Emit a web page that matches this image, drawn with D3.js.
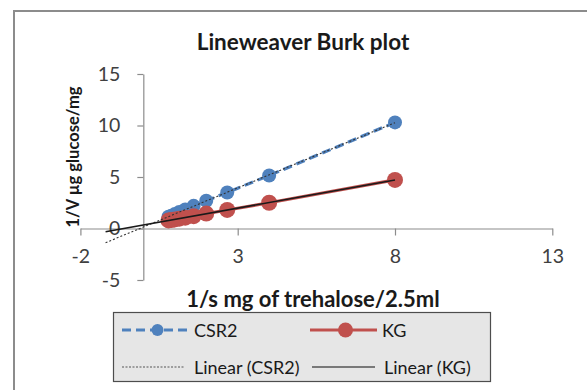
<!DOCTYPE html>
<html>
<head>
<meta charset="utf-8">
<script src="https://cdn.jsdelivr.net/npm/d3@7"></script>
<style>
  html, body { margin: 0; padding: 0; background: #fff; }
  svg { display: block; font-family: Lato, "Open Sans", sans-serif; }
</style>
</head>
<body>
<svg id="chart" width="587" height="390"></svg>
<script>
// ---- data ----
const xValues = [8, 4, 2.667, 2, 1.6, 1.333, 1.143, 1, 0.889, 0.8];
const csr2Values = [10.3, 5.15, 3.5, 2.7, 2.2, 1.85, 1.6, 1.4, 1.25, 1.15];
const kgValues = [4.72, 2.5, 1.8, 1.45, 1.2, 1.05, 0.95, 0.88, 0.82, 0.78];
const xTicks = [-2, 3, 8, 13];
const yTicks = [-5, 0, 5, 10, 15];
const seriesNames = ["CSR2", "KG"];
const trendNames = ["Linear (CSR2)", "Linear (KG)"];
const backwardForecast = 2;

const svg = d3.select("#chart");

// outer frame
svg.append("rect").attr("x", 14).attr("y", 11).attr("width", 600).attr("height", 400)
  .attr("fill", "#fff").attr("stroke", "#8c8c8c").attr("stroke-width", 2);

const x = d3.scaleLinear().domain([-2, 13]).range([80.4, 552.3]);
const y = d3.scaleLinear().domain([-5, 15]).range([280, 74]);

// title
svg.append("text").attr("x", 303).attr("y", 50).attr("text-anchor", "middle")
  .attr("font-size", 22.5).attr("font-weight", "bold").attr("fill", "#1a1a1a")
  .text("Lineweaver Burk plot");

// axes
const axisColor = "#8c8c8c";
const fmt = d => String(d);
const gx = svg.append("g").attr("transform", `translate(0,${y(0)})`)
  .call(d3.axisBottom(x).tickValues(xTicks).tickSize(7).tickSizeOuter(0).tickPadding(14).tickFormat(fmt));
const gy = svg.append("g").attr("transform", `translate(${x(0)},0)`)
  .call(d3.axisLeft(y).tickValues(yTicks).tickSize(6).tickSizeOuter(0).tickPadding(17).tickFormat(fmt));
[gx, gy].forEach(g => {
  g.select(".domain").attr("stroke", axisColor).attr("stroke-width", 1.2);
  g.selectAll(".tick line").attr("stroke", axisColor).attr("stroke-width", 1.2);
  g.selectAll(".tick text").attr("font-size", 19.5).attr("fill", "#404040")
    .attr("font-family", "Lato, sans-serif");
});

// axis titles
svg.append("text").attr("transform", `translate(79,157) rotate(-90)`).attr("text-anchor", "middle")
  .attr("font-size", 16.5).attr("font-weight", "bold").attr("fill", "#1a1a1a")
  .text("1/V µg glucose/mg");
svg.append("text").attr("x", 313).attr("y", 307).attr("text-anchor", "middle")
  .attr("font-size", 22).attr("font-weight", "bold").attr("fill", "#1a1a1a")
  .text("1/s mg of trehalose/2.5ml");

// series
const blue = "#4f81bd", red = "#c0504d";
const csr2 = xValues.map((v, i) => ({x: v, y: csr2Values[i]}));
const kg = xValues.map((v, i) => ({x: v, y: kgValues[i]}));
const line = d3.line().x(d => x(d.x)).y(d => y(d.y));

function fit(data) {
  const mx = d3.mean(data, d => d.x), my = d3.mean(data, d => d.y);
  const slope = d3.sum(data, d => (d.x - mx) * (d.y - my)) / d3.sum(data, d => (d.x - mx) ** 2);
  return {slope, intercept: my - slope * mx};
}

const plot = svg.append("g");
plot.append("path").datum(csr2).attr("d", line).attr("fill", "none")
  .attr("stroke", blue).attr("stroke-width", 3.2).attr("stroke-dasharray", "9,5");
plot.selectAll("circle.c").data(csr2).join("circle").attr("class", "c")
  .attr("cx", d => x(d.x)).attr("cy", d => y(d.y)).attr("r", 7).attr("fill", blue);
plot.append("path").datum(kg).attr("d", line).attr("fill", "none")
  .attr("stroke", red).attr("stroke-width", 3.2);
plot.selectAll("circle.k").data(kg).join("circle").attr("class", "k")
  .attr("cx", d => x(d.x)).attr("cy", d => y(d.y)).attr("r", 8).attr("fill", red);

// trendlines
[[csr2, "2,2", 1.1, "#333"], [kg, null, 1.5, "#1a1a1a"]].forEach(([data, dash, w, col]) => {
  const f = fit(data);
  const x0 = d3.min(data, d => d.x) - backwardForecast, x1 = d3.max(data, d => d.x);
  const pts = [x0, x1].map(v => ({x: v, y: f.intercept + f.slope * v}));
  const p = plot.append("path").datum(pts).attr("d", line).attr("fill", "none")
    .attr("stroke", col).attr("stroke-width", w);
  if (dash) p.attr("stroke-dasharray", dash);
});

// legend
const lg = svg.append("g");
lg.append("rect").attr("x", 113.5).attr("y", 312.5).attr("width", 377).attr("height", 69)
  .attr("fill", "#e6e6e6").attr("stroke", "#4d4d4d").attr("stroke-width", 1.2);
const legendItems = [
  {name: seriesNames[0], x: 122, y: 330, color: blue, w: 3.2, dash: "9,5", r: 6},
  {name: seriesNames[1], x: 310, y: 330, color: red, w: 3.2, dash: null, r: 7.5},
  {name: trendNames[0], x: 122, y: 367, color: "#555", w: 1.1, dash: "2,1.5", r: 0},
  {name: trendNames[1], x: 312, y: 367, color: "#555", w: 1.5, dash: null, r: 0}
];
legendItems.forEach(it => {
  const len = it.r ? 67 : 63;
  const l = lg.append("line").attr("x1", it.x).attr("x2", it.x + len).attr("y1", it.y).attr("y2", it.y)
    .attr("stroke", it.color).attr("stroke-width", it.w);
  if (it.dash) l.attr("stroke-dasharray", it.dash);
  if (it.r) lg.append("circle").attr("cx", it.x + len / 2 + 2).attr("cy", it.y).attr("r", it.r).attr("fill", it.color);
  lg.append("text").attr("x", it.x + 72).attr("y", it.y + 6.5)
    .attr("font-size", 18).attr("fill", "#1a1a1a").text(it.name);
});
</script>
</body>
</html>
